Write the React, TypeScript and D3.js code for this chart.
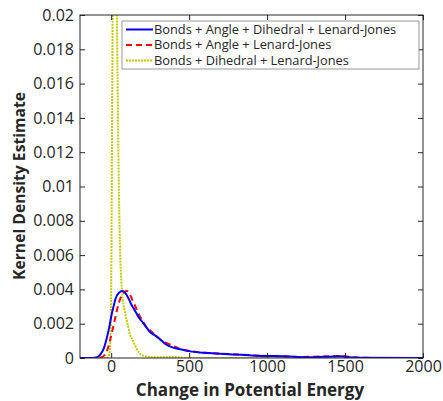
import { useEffect, useRef } from 'react';
import * as d3 from 'd3';

// x positions (change in potential energy) and density values
const blueX = [-200, -120, -90, -70, -50, -30, -10, 0, 15, 30, 50, 70, 90, 110, 130, 150, 175, 200, 225, 250, 275, 300, 325, 350, 400, 450, 500, 600, 700, 800, 900, 1000, 1100, 1200, 1300, 1400, 1480, 1520, 1600, 2000];
const blueY = [0, 0, 0.00005, 0.0002, 0.0005, 0.0011, 0.0019, 0.0024, 0.003, 0.0035, 0.0038, 0.0039, 0.0038, 0.0035, 0.0031, 0.0028, 0.0024, 0.0021, 0.0018, 0.0015, 0.00135, 0.0012, 0.001, 0.0008, 0.0006, 0.0005, 0.0004, 0.0003, 0.00025, 0.0002, 0.00015, 0.00012, 0.0001, 0.00006, 0.00005, 0.00008, 0.0001, 0.00004, 0.00001, 0];

const redX = [-200, -100, -60, -40, -20, 0, 20, 40, 60, 80, 100, 120, 140, 160, 180, 200, 225, 250, 275, 300, 325, 350, 400, 450, 500, 600, 700, 800, 900, 1000, 1100, 1200, 1300, 1400, 1450, 1500, 1550, 1600, 2000];
const redY = [0, 0, 0.00005, 0.0002, 0.0006, 0.0013, 0.0021, 0.0029, 0.0035, 0.0038, 0.0039, 0.0037, 0.0033, 0.0029, 0.0025, 0.0022, 0.0018, 0.0016, 0.0014, 0.0012, 0.001, 0.0009, 0.0007, 0.0005, 0.00042, 0.0003, 0.00026, 0.0002, 0.00015, 0.00012, 0.0001, 0.00006, 0.00008, 0.0001, 0.00012, 0.0001, 0.00004, 0.00001, 0];

const yellowX = [-200, -25, -12, -5, 0, 5, 10, 15, 20, 30, 40, 50, 58, 65, 75, 90, 105, 120, 140, 160, 180, 210, 250, 300, 350, 400, 450, 500, 2000];
const yellowY = [0, 0, 0.0002, 0.001, 0.004, 0.012, 0.021, 0.027, 0.028, 0.025, 0.017, 0.0095, 0.006, 0.0045, 0.0034, 0.0026, 0.002, 0.0014, 0.001, 0.0006, 0.0003, 0.00012, 0.00006, 0.00004, 0.00005, 0.00006, 0.00003, 0, 0];

const xTicks = [0, 500, 1000, 1500, 2000];
const yTicks = [0, 0.002, 0.004, 0.006, 0.008, 0.01, 0.012, 0.014, 0.016, 0.018, 0.02];

const seriesNames = [
  'Bonds + Angle + Dihedral + Lenard-Jones',
  'Bonds + Angle + Lenard-Jones',
  'Bonds + Dihedral + Lenard-Jones',
];

const App = () => {
  const svgRef = useRef<SVGSVGElement>(null);
  const width = 443;
  const height = 401;

  useEffect(() => {
    if (!svgRef.current) return;
    d3.select(svgRef.current).selectAll('*').remove();

    const margin = { top: 15, right: 20, bottom: 43, left: 80 };
    const innerWidth = width - margin.left - margin.right;
    const innerHeight = height - margin.top - margin.bottom;
    const font = '"Open Sans", "DejaVu Sans", sans-serif';
    const axisColor = '#262626';

    const svg = d3.select(svgRef.current)
      .attr('width', width)
      .attr('height', height)
      .style('font-family', font);

    svg.append('rect').attr('width', width).attr('height', height).attr('fill', '#fff');

    const g = svg.append('g')
      .attr('transform', `translate(${margin.left},${margin.top})`);

    const xScale = d3.scaleLinear().domain([-200, 2000]).range([0, innerWidth]);
    const yScale = d3.scaleLinear().domain([0, 0.02]).range([innerHeight, 0]);

    svg.append('clipPath').attr('id', 'plot-clip')
      .append('rect').attr('width', innerWidth).attr('height', innerHeight);

    const line = d3.line<[number, number]>()
      .x(d => xScale(d[0]))
      .y(d => yScale(d[1]))
      .curve(d3.curveMonotoneX);

    const series = [
      { name: seriesNames[0], xs: blueX, ys: blueY, color: '#0000ff', dash: null as string | null },
      { name: seriesNames[1], xs: redX, ys: redY, color: '#ff0000', dash: '6,4' },
      { name: seriesNames[2], xs: yellowX, ys: yellowY, color: '#c8c800', dash: '2,1' },
    ];

    const plot = g.append('g').attr('clip-path', 'url(#plot-clip)');
    series.slice().reverse().forEach(s => {
      plot.append('path')
        .datum(s.xs.map((x, i) => [x, s.ys[i]] as [number, number]))
        .attr('d', line)
        .attr('fill', 'none')
        .attr('stroke', s.color)
        .attr('stroke-width', 2)
        .attr('stroke-dasharray', s.dash);
    });

    // Axes (MATLAB style: box, inward ticks)
    const styleAxis = (sel: d3.Selection<SVGGElement, unknown, null, undefined>) => {
      sel.select('.domain').remove();
      sel.selectAll('line').attr('stroke', axisColor);
      sel.selectAll('text').attr('fill', axisColor).attr('font-size', '16px').attr('font-family', font);
    };

    g.append('g')
      .attr('transform', `translate(0,${innerHeight})`)
      .call(d3.axisBottom(xScale).tickValues(xTicks).tickSize(-5).tickPadding(3).tickFormat(d3.format('d')))
      .call(styleAxis);
    g.append('g')
      .call(d3.axisTop(xScale).tickValues(xTicks).tickSize(-5).tickFormat(() => ''))
      .call(styleAxis);
    g.append('g')
      .call(d3.axisLeft(yScale).tickValues(yTicks).tickSize(-5).tickPadding(6).tickFormat(d => String(+d)))
      .call(styleAxis);
    g.append('g')
      .attr('transform', `translate(${innerWidth},0)`)
      .call(d3.axisRight(yScale).tickValues(yTicks).tickSize(-5).tickFormat(() => ''))
      .call(styleAxis);

    g.append('rect')
      .attr('width', innerWidth)
      .attr('height', innerHeight)
      .attr('fill', 'none')
      .attr('stroke', axisColor)
      .attr('stroke-width', 1);

    // Axis labels
    svg.append('text')
      .attr('x', 250)
      .attr('y', 396)
      .attr('text-anchor', 'middle')
      .attr('font-size', '17px')
      .attr('font-weight', 'bold')
      .attr('fill', axisColor)
      .text('Change in Potential Energy');

    svg.append('text')
      .attr('transform', 'translate(25,186) rotate(-90)')
      .attr('text-anchor', 'middle')
      .attr('font-size', '15.7px')
      .attr('font-weight', 'bold')
      .attr('fill', axisColor)
      .text('Kernel Density Estimate');

    // Legend
    const legend = svg.append('g').attr('transform', 'translate(122,21)');
    legend.append('rect')
      .attr('width', 297)
      .attr('height', 48)
      .attr('fill', '#fff')
      .attr('stroke', '#7f7f7f')
      .attr('stroke-width', 0.8);

    series.forEach((s, i) => {
      const row = legend.append('g').attr('transform', `translate(0,${8.5 + i * 15.5})`);
      row.append('line')
        .attr('x1', 4).attr('x2', 31)
        .attr('y1', 0).attr('y2', 0)
        .attr('stroke', s.color)
        .attr('stroke-width', 2)
        .attr('stroke-dasharray', s.dash);
      row.append('text')
        .attr('x', 32)
        .attr('y', 0)
        .attr('dy', '0.35em')
        .attr('font-size', '12.8px')
        .attr('fill', axisColor)
        .text(s.name);
    });
  }, []);

  return <svg ref={svgRef} style={{ display: 'block', position: 'absolute', left: 0, top: 0 }} />;
};

export default App;
